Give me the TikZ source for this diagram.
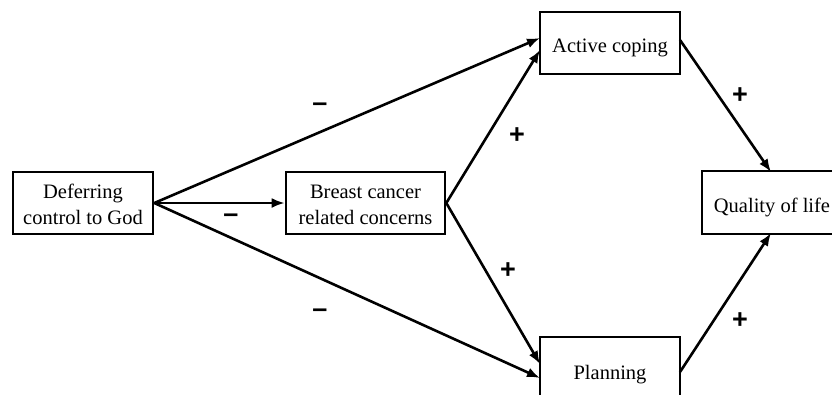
\documentclass[tikz,border=0pt]{standalone}
\usepackage{fontspec}
\setmainfont{Liberation Serif}
\newfontfamily\signfont{Liberation Sans}
\usetikzlibrary{arrows.meta}
\begin{document}
\begin{tikzpicture}[x=1pt,y=-1pt,
  box/.style={draw,line width=2.6pt,minimum height=62pt,align=center,inner sep=0pt},
  txt/.style={font=\fontsize{20.5}{26}\selectfont,align=center,inner sep=0pt},
  arr/.style={line width=2.6pt,-{Latex[length=13pt,width=10pt]}},
  sign/.style={font=\signfont\bfseries\fontsize{27}{27}\selectfont,inner sep=0pt}]
\useasboundingbox (0,0) rectangle (832,394);
\clip (0,0) rectangle (832,394);
\node[box,minimum width=140pt,label={[txt,yshift=-1.5pt]center:Deferring\\control to God}] (def) at (83,203) {};
\node[box,minimum width=159pt,label={[txt,yshift=-1.5pt]center:Breast cancer\\related concerns}] (bc) at (365.5,203) {};
\node[box,minimum width=140pt,label={[txt,yshift=-5pt]center:Active coping}] (ac) at (610,43) {};
\node[box,minimum width=140pt,minimum height=64pt,label={[txt,yshift=-5.5pt]center:Planning}] (pl) at (610,369) {};
\node[box,minimum width=142pt,minimum height=63pt,label={[txt,yshift=-5pt,xshift=-1pt]center:Quality of life}] (ql) at (773,202.5) {};
\coordinate (acA) at (540,38);
\coordinate (acB) at (540,50);
\coordinate (plA) at (540,364);
\coordinate (plB) at (540,378);
\coordinate (qlT) at (771,172);
\coordinate (qlB) at (771,233);
\draw[arr] (def.east) -- (acA);
\draw[arr] (def.east) -- (bc.west);
\draw[arr] (def.east) -- (plB);
\draw[arr] (bc.east) -- (acB);
\draw[arr] (bc.east) -- (plA);
\draw[arr] (680,40) -- (qlT);
\draw[arr] (680,372) -- (qlB);
\node[sign] (m1) at (320,107) {–};
\node[sign] (m2) at (231,218) {–};
\node[sign] (m3) at (320,313) {–};
\node[sign] (p1) at (517,136) {+};
\node[sign] (p2) at (508,271) {+};
\node[sign] (p3) at (740,96) {+};
\node[sign] (p4) at (740,321) {+};
\end{tikzpicture}
\end{document}
